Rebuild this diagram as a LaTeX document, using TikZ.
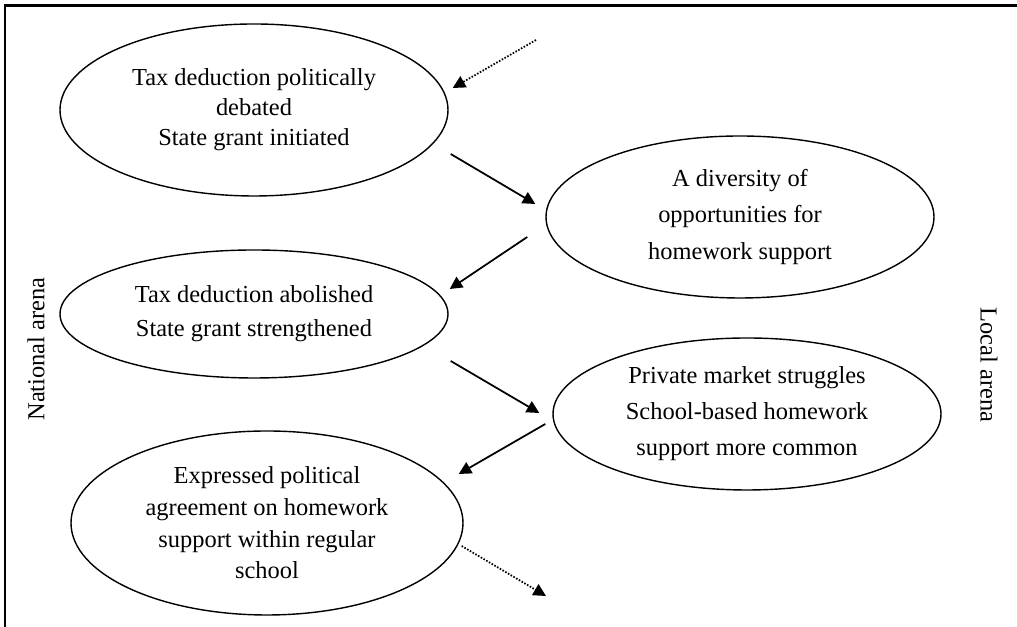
\documentclass[tikz,border=0pt]{standalone}
\usepackage{fontspec}
\setmainfont{Liberation Serif}
\usetikzlibrary{arrows.meta,positioning,shapes.geometric}

\tikzset{
  phase/.style={draw, ellipse, inner sep=0pt, align=center, line width=0.8pt,
    minimum width=7.76cm, font=\fontsize{13.9}{18}\selectfont},
  flow/.style={-{Triangle[length=0.25cm,width=0.25cm]}, line width=1pt},
  hint/.style={flow, dash pattern=on 0.9pt off 0.9pt},
  arena/.style={font=\fontsize{13.9}{16}\selectfont},
}

\begin{document}
\begin{tikzpicture}
\useasboundingbox (0,0) rectangle (20.34,12.54);
\draw[line width=1.6pt] (0.1,0) -- (0.1,12.43) -- (20.34,12.43);

\node[phase, minimum height=3.44cm, font=\fontsize{13.9}{17}\selectfont] (e1) at (5.08,10.34) {Tax deduction politically\\debated\\State grant initiated};
\node[phase, minimum height=3.24cm, font=\fontsize{13.9}{21}\selectfont] (e2) at (14.80,8.20) {A diversity of\\opportunities for\\homework support};
\node[phase, minimum height=2.56cm, font=\fontsize{13.9}{19.3}\selectfont] (e3) at (5.08,6.26) {Tax deduction abolished\\State grant strengthened};
\node[phase, minimum height=3.04cm, font=\fontsize{13.9}{20.5}\selectfont] (e4) at (14.94,4.26) {Private market struggles\\School-based homework\\support more common};
\node[phase, minimum width=7.84cm, minimum height=3.68cm] (e5) at (5.34,2.08) {Expressed political\\agreement on homework\\support within regular\\school};

\node[arena, rotate=90] (national) at (0.72,5.56) {National arena};
\node[arena, rotate=-90] (local) at (19.78,5.24) {Local arena};

\coordinate (in) at (10.72,11.74);
\coordinate (out) at (10.92,0.62);

\draw[hint] (in) -- ([shift={(0.08,0.44)}]e1.east);
\draw[flow] ([shift={(0.04,-0.88)}]e1.east) -- ([shift={(-0.20,0.26)}]e2.west);
\draw[flow] ([shift={(-0.36,-0.40)}]e2.west) -- ([shift={(0.02,0.50)}]e3.east);
\draw[flow] ([shift={(0.04,-0.94)}]e3.east) -- ([shift={(-0.26,0.02)}]e4.west);
\draw[flow] ([shift={(-0.14,-0.20)}]e4.west) -- ([shift={(-0.10,0.98)}]e5.east);
\draw[hint] ([shift={(-0.04,-0.46)}]e5.east) -- (out);
\end{tikzpicture}
\end{document}
